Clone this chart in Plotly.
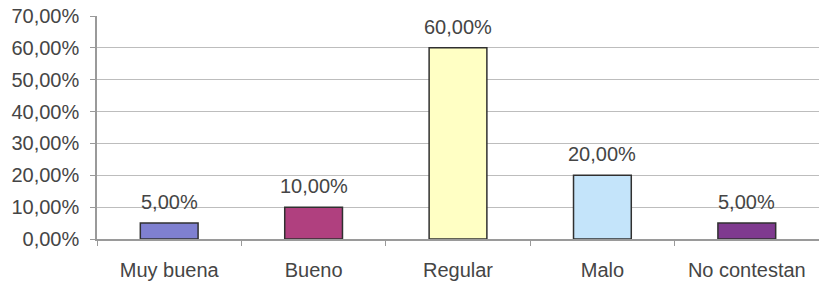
import plotly.graph_objects as go

categories = ["Muy buena", "Bueno", "Regular", "Malo", "No contestan"]
values = [0.05, 0.10, 0.60, 0.20, 0.05]
colors = ["#7f80d0", "#b0407f", "#ffffc4", "#c4e4fa", "#7f3a8f"]
tick_vals = [0, 0.1, 0.2, 0.3, 0.4, 0.5, 0.6, 0.7]

FONT = "Liberation Sans, Arial, sans-serif"

fig = go.Figure(go.Bar(
    x=categories, y=values,
    marker=dict(color=colors, line=dict(color="#303030", width=1.5)),
    width=0.4,
    hoverinfo="skip",
))

for c, v in zip(categories, values):
    fig.add_annotation(
        x=c, y=v, text=f"{v*100:.2f}%".replace(".", ","),
        showarrow=False, yanchor="bottom", yshift=8,
        font=dict(family=FONT, size=20, color="#454545"),
    )

fig.update_layout(
    width=819, height=286,
    margin=dict(l=97, r=0, t=16, b=47),
    paper_bgcolor="white", plot_bgcolor="white",
    separators=",.",
    showlegend=False,
    font=dict(family=FONT, size=18, color="#454545"),
)
fig.update_yaxes(
    range=[0, 0.7], tickvals=tick_vals, tickformat=".2%",
    tickfont=dict(size=20),
    showgrid=True, gridcolor="#bdbdbd", gridwidth=1,
    showline=True, linecolor="#9a9a9a", linewidth=1.5,
    ticks="outside", ticklen=5, tickcolor="#9a9a9a",
    ticklabelstandoff=7,
    zeroline=False,
)
fig.update_xaxes(
    range=[-0.5, 4.5],
    tickfont=dict(size=20),
    showline=True, linecolor="#9a9a9a", linewidth=1.5,
    ticks="outside", ticklen=5, tickcolor="#9a9a9a",
    tickson="boundaries", showgrid=False,
    ticklabelstandoff=12,
)

fig.write_html(
    "out.html",
    config={"displayModeBar": False},
    post_script="document.body.style.margin='0';document.body.style.overflow='hidden';",
)
